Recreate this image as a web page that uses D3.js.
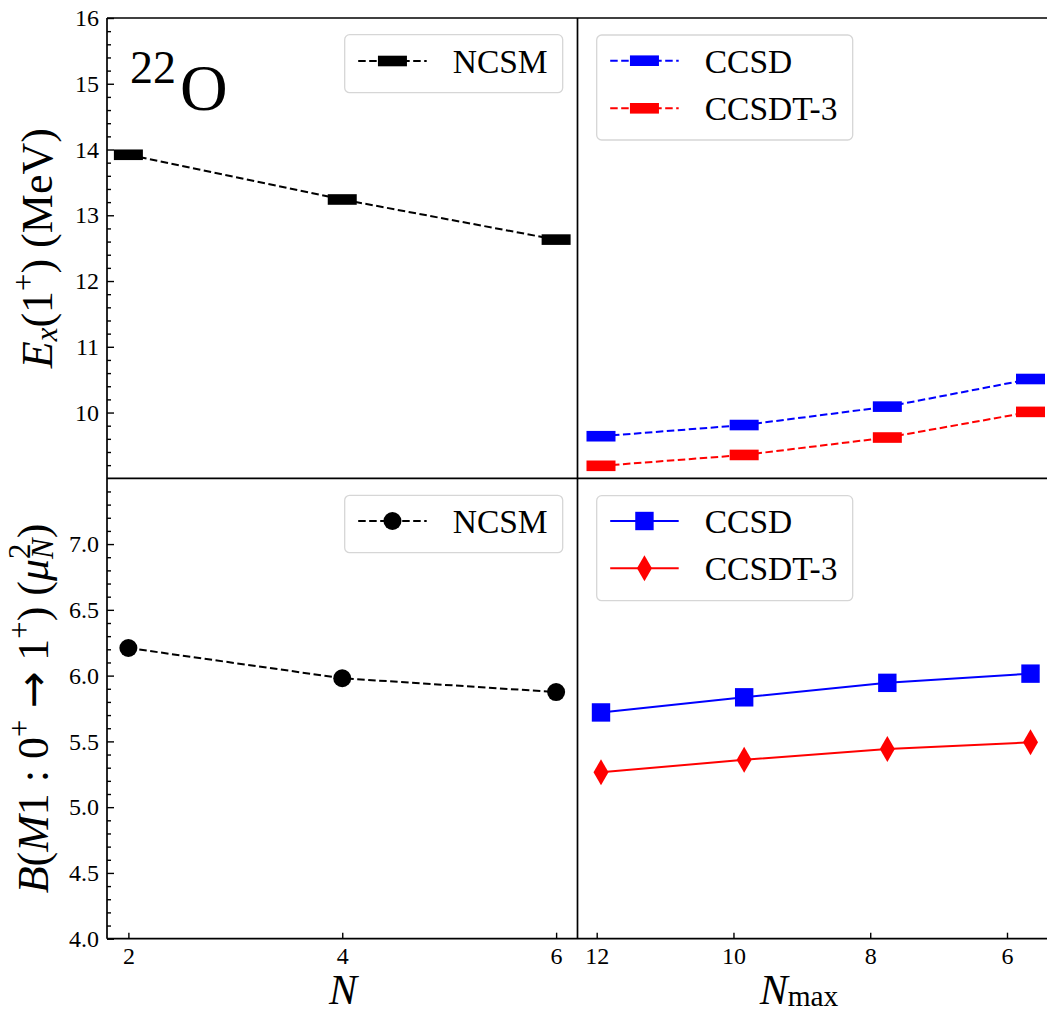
<!DOCTYPE html>
<html lang="en">
<head>
<meta charset="UTF-8">
<title>22O M1 transition</title>
<script src="https://d3js.org/d3.v7.min.js"></script>
<style>
  body { margin: 0; background: #fff; }
  svg, svg text { font-family: "Liberation Serif", "Times New Roman", Times, "DejaVu Serif", serif; }
  svg { display: block; }
  .tick text { font-size: 24px; fill: #000; }
  .tick line { stroke: #000; stroke-width: 1.4px; }
  .spine { stroke: #000; stroke-width: 1.7px; fill: none; }
  .legend-box { fill: #fff; stroke: #d6d6d6; stroke-width: 1.3px; }
  .legend-text { font-size: 33.5px; fill: #000; }
</style>
</head>
<body>
<div id="chart"></div>
<script>
// ---- data ----
const nNcsm = [2, 4, 6];
const exNcsm = [13.92, 13.24, 12.63];
const bNcsm = [6.21, 5.98, 5.875];

const nMax = [12, 10, 8, 6];
const exCcsd = [9.64, 9.81, 10.09, 10.51];
const exCcsdt3 = [9.19, 9.355, 9.62, 10.01];
const bCcsd = [5.72, 5.835, 5.945, 6.015];
const bCcsdt3 = [5.265, 5.36, 5.443, 5.493];

const exTicks = [10, 11, 12, 13, 14, 15, 16];
const bTicks = [4.0, 4.5, 5.0, 5.5, 6.0, 6.5, 7.0];
const nTicks = [2, 4, 6];
const nMaxTicks = [12, 10, 8, 6];

// ---- layout ----
const width = 1047, height = 1013;
const edgeL = 107, edgeMidX = 577.5, edgeR = 1047;
const edgeT = 18, edgeMidY = 478.3, edgeB = 938.7;

const svg = d3.select("#chart").append("svg")
    .attr("width", width)
    .attr("height", height);

const xL = d3.scaleLinear().domain([1.8, 6.2]).range([edgeL, edgeMidX]);
// right panel: tick marks and plotted points sit on slightly different spacings in the original
const xRtick = d3.scaleLinear().domain([12, 6]).range([596.7, 1007]);
const xR = d3.scaleLinear().domain([12, 6]).range([601, 1030.5]);
const yTop = d3.scaleLinear().domain([9, 16]).range([edgeMidY, edgeT]);
const yBot = d3.scaleLinear().domain([4, 7.5]).range([edgeB, edgeMidY]);

const exMinor = d3.range(46, 80).map(v => v / 5).filter(v => Math.abs(v - Math.round(v)) > 1e-6);
const bMinor = d3.range(41, 75).map(v => v / 10).filter(v => Math.abs(v * 2 - Math.round(v * 2)) > 1e-6);

// ---- axes (ticks inward) ----
function cleanAxis(g) {
    g.attr("font-family", null).attr("font-size", null);
    g.select(".domain").remove();
}
function yAxis(scale, ticks, minor, fmt) {
    svg.append("g")
        .attr("transform", `translate(${edgeL},0)`)
        .call(d3.axisLeft(scale).tickValues(minor).tickSize(-4).tickFormat(""))
        .call(cleanAxis);
    svg.append("g")
        .attr("transform", `translate(${edgeL},0)`)
        .call(d3.axisLeft(scale).tickValues(ticks).tickSize(-7).tickPadding(8).tickFormat(fmt))
        .call(cleanAxis);
}
yAxis(yTop, exTicks, exMinor, d3.format("d"));
yAxis(yBot, bTicks, bMinor, d3.format(".1f"));

function xAxis(scale, ticks) {
    svg.append("g")
        .attr("transform", `translate(0,${edgeB})`)
        .call(d3.axisBottom(scale).tickValues(ticks).tickSize(-6).tickPadding(8).tickFormat(d3.format("d")))
        .call(cleanAxis);
}
xAxis(xL, nTicks);
xAxis(xRtick, nMaxTicks);

// spines
const spines = svg.append("g");
[[edgeL, edgeT, edgeR, edgeT], [edgeL, edgeMidY, edgeR, edgeMidY], [edgeL, edgeB, edgeR, edgeB],
 [edgeL, edgeT, edgeL, edgeB], [edgeMidX, edgeT, edgeMidX, edgeB]].forEach(s => {
    spines.append("line").attr("class", "spine")
        .attr("x1", s[0]).attr("y1", s[1]).attr("x2", s[2]).attr("y2", s[3]);
});

// ---- series ----
const DASH = "7.5,3.5";

function series(xs, ys, xScale, yScale, color, dash) {
    svg.append("path")
        .datum(xs.map((x, i) => [x, ys[i]]))
        .attr("fill", "none")
        .attr("stroke", color)
        .attr("stroke-width", 2)
        .attr("stroke-dasharray", dash)
        .attr("d", d3.line().x(d => xScale(d[0])).y(d => yScale(d[1])));
    return xs.map((x, i) => [xScale(x), yScale(ys[i])]);
}

function bars(g, pts, color) {
    g.selectAll(null).data(pts).enter().append("rect")
        .attr("x", d => d[0] - 14.5).attr("y", d => d[1] - 5.3)
        .attr("width", 29).attr("height", 10.6)
        .attr("fill", color);
}
function circles(g, pts, color) {
    g.selectAll(null).data(pts).enter().append("circle")
        .attr("cx", d => d[0]).attr("cy", d => d[1]).attr("r", 9)
        .attr("fill", color);
}
function squares(g, pts, color) {
    g.selectAll(null).data(pts).enter().append("rect")
        .attr("x", d => d[0] - 9.2).attr("y", d => d[1] - 9.2)
        .attr("width", 18.4).attr("height", 18.4)
        .attr("fill", color);
}
function diamonds(g, pts, color) {
    g.selectAll(null).data(pts).enter().append("path")
        .attr("d", d => `M${d[0]},${d[1] - 13} L${d[0] + 7.5},${d[1]} L${d[0]},${d[1] + 13} L${d[0] - 7.5},${d[1]} Z`)
        .attr("fill", color);
}

const marks = svg.append("g");
bars(marks, series(nNcsm, exNcsm, xL, yTop, "#000", DASH), "#000");
bars(marks, series(nMax, exCcsd, xR, yTop, "#0000ff", DASH), "#0000ff");
bars(marks, series(nMax, exCcsdt3, xR, yTop, "#ff0000", DASH), "#ff0000");
circles(marks, series(nNcsm, bNcsm, xL, yBot, "#000", DASH), "#000");
squares(marks, series(nMax, bCcsd, xR, yBot, "#0000ff", null), "#0000ff");
diamonds(marks, series(nMax, bCcsdt3, xR, yBot, "#ff0000", null), "#ff0000");

// ---- legends ----
function legend(x, y, w, h, rows) {
    const g = svg.append("g");
    g.append("rect").attr("class", "legend-box")
        .attr("x", x).attr("y", y).attr("width", w).attr("height", h).attr("rx", 5);
    rows.forEach(r => {
        const lx0 = x + 13.5, lx1 = x + 82, cx = (lx0 + lx1) / 2;
        g.append("line")
            .attr("x1", lx0).attr("x2", lx1).attr("y1", r.y).attr("y2", r.y)
            .attr("stroke", r.color).attr("stroke-width", 2)
            .attr("stroke-dasharray", r.dash);
        r.marker(g, [[cx, r.y]], r.color);
        g.append("text").attr("class", "legend-text")
            .attr("x", x + 108).attr("y", r.y + 12)
            .text(r.label);
    });
}
legend(344.7, 34.7, 218, 58, [{label: "NCSM", color: "#000", dash: DASH, marker: bars, y: 61}]);
legend(596.7, 35, 256, 105, [
    {label: "CCSD", color: "#0000ff", dash: DASH, marker: bars, y: 60.7},
    {label: "CCSDT-3", color: "#ff0000", dash: DASH, marker: bars, y: 108.3}]);
legend(344.7, 495.3, 218, 57.4, [{label: "NCSM", color: "#000", dash: DASH, marker: circles, y: 521}]);
legend(596.7, 495.7, 256, 105, [
    {label: "CCSD", color: "#0000ff", dash: null, marker: squares, y: 521},
    {label: "CCSDT-3", color: "#ff0000", dash: null, marker: diamonds, y: 568.3}]);

// ---- text labels ----
// math-like label from parts: {t, it, s: "sub"|"sup", dx, ff}
function mathText(sel, size, parts, subDrop = 0.12) {
    let off = 0;
    parts.forEach(p => {
        const target = p.s === "sub" ? subDrop * size : p.s === "sup" ? -0.42 * size : 0;
        const ts = sel.append("tspan")
            .attr("font-size", p.s ? size * 0.7 : size)
            .attr("font-style", p.it ? "italic" : "normal")
            .attr("dy", target - off)
            .text(p.t);
        if (p.dx) ts.attr("dx", p.dx);
        if (p.ff) ts.style("font-family", p.ff);
        off = target;
    });
}

const nucl = svg.append("text").attr("x", 130).attr("y", 110);
nucl.append("tspan").attr("font-size", 46).attr("dy", -27).text("22");
nucl.append("tspan").attr("font-size", 66).attr("dy", 27).attr("dx", 4).text("O");

mathText(svg.append("text").attr("text-anchor", "middle").attr("x", 343).attr("y", 1004), 42,
    [{t: "N", it: true}]);
mathText(svg.append("text").attr("text-anchor", "middle").attr("x", 799).attr("y", 1004), 42,
    [{t: "N", it: true}, {t: "max", s: "sub"}], 0.05);

mathText(svg.append("text").attr("text-anchor", "middle")
        .attr("transform", `translate(52,${(edgeT + edgeMidY) / 2}) rotate(-90)`), 44,
    [{t: "E", it: true}, {t: "x", it: true, s: "sub"}, {t: "(1"}, {t: "+", s: "sup"},
     {t: ")"}, {t: " (MeV)"}]);

mathText(svg.append("text").attr("text-anchor", "middle")
        .attr("transform", `translate(48,${(edgeMidY + edgeB) / 2}) rotate(-90)`), 44,
    [{t: "B", it: true}, {t: "("}, {t: "M", it: true}, {t: "1 : 0"}, {t: "+", s: "sup"},
     {t: " "}, {t: "\u2192", ff: "'DejaVu Sans'"}, {t: " 1"}, {t: "+", s: "sup"},
     {t: ") ("}, {t: "\u03bc", it: true},
     {t: "2", s: "sup"}, {t: "N", it: true, s: "sub", dx: -15.4}, {t: ")"}]);
</script>
</body>
</html>
